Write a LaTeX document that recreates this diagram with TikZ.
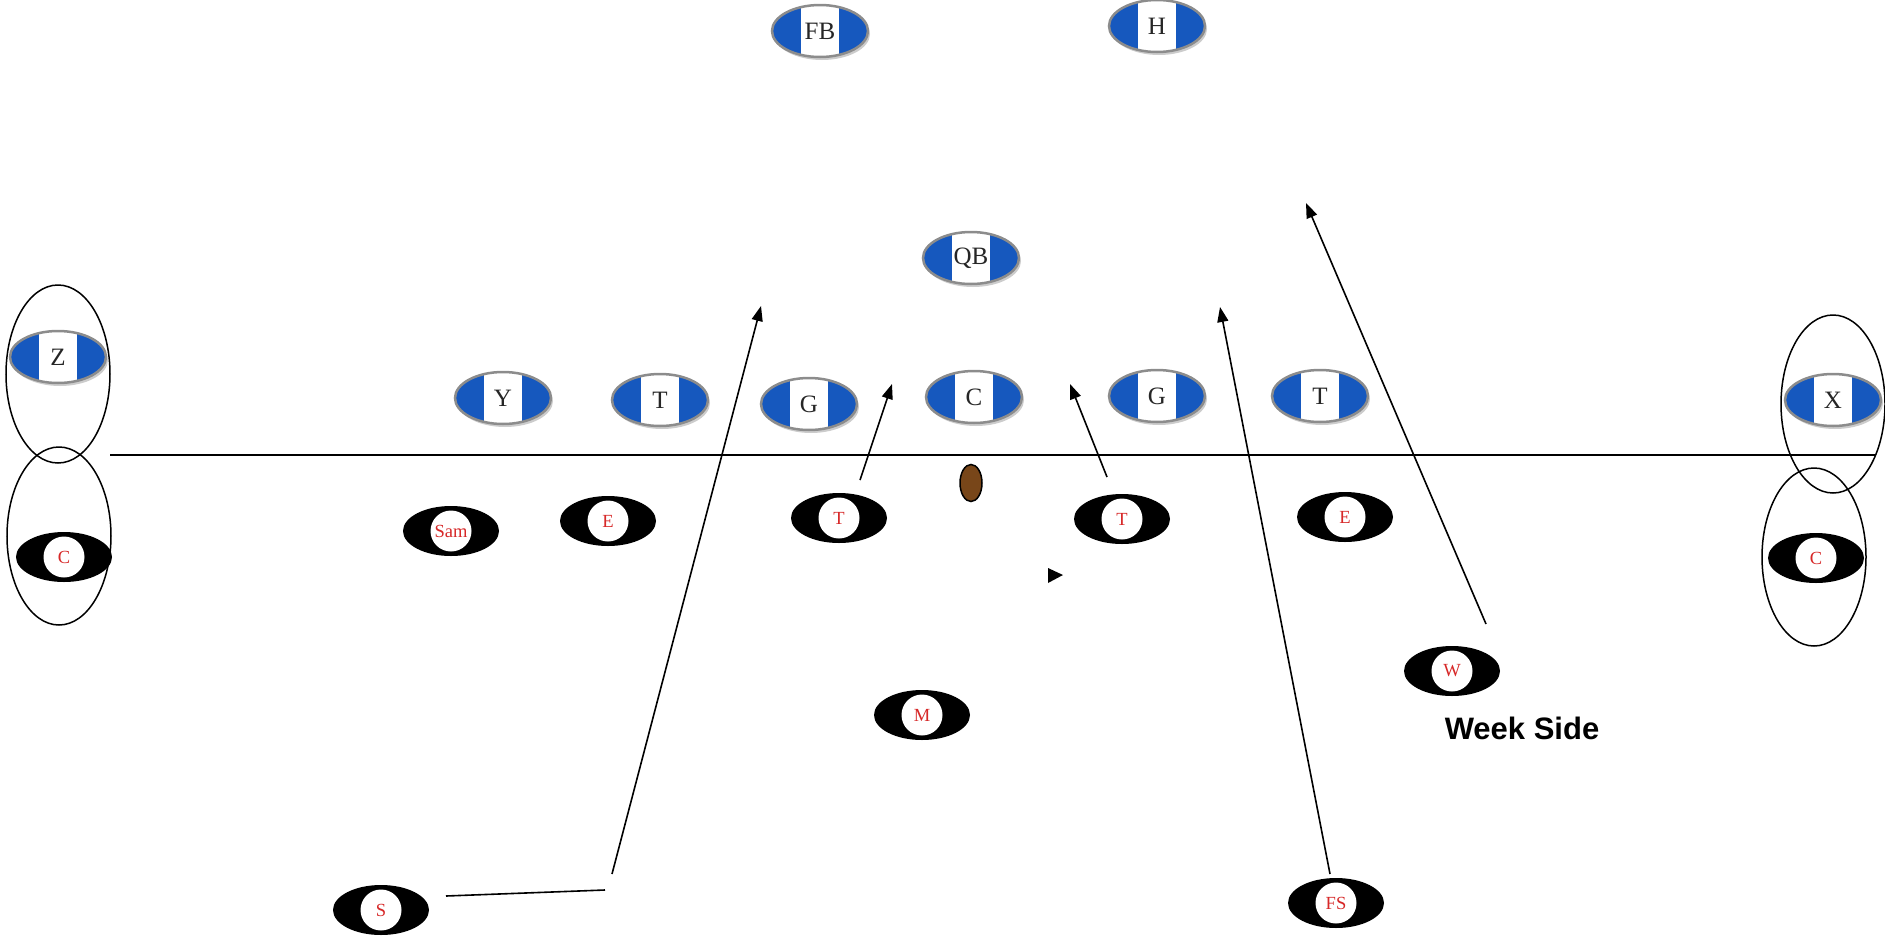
\documentclass[tikz,border=0pt]{standalone}
\usepackage{fontspec}
\setmainfont{Liberation Serif}
\setsansfont{Liberation Sans}
\usetikzlibrary{shapes.geometric,arrows.meta,shadows}
\definecolor{offblue}{RGB}{22,88,190}
\definecolor{defred}{RGB}{215,40,40}
\tikzset{
  offense/.style={ellipse, minimum width=96pt, minimum height=52pt, inner sep=0pt,
    fill=offblue, draw=black!45, line width=2.5pt, text=black!85,
    font=\fontsize{25}{25}\selectfont,
    path picture={\fill[white] ([xshift=-19pt]path picture bounding box.south)
      rectangle ([xshift=19pt]path picture bounding box.north);},
    drop shadow={shadow xshift=2pt, shadow yshift=-3pt, fill=black!50, opacity=0.4}},
  defense/.style={ellipse, minimum width=96pt, minimum height=50pt, inner sep=0pt,
    fill=black, text=defred, font=\fontsize{18.5}{18.5}\selectfont,
    path picture={\fill[white] (path picture bounding box.center) circle (20.5pt);}},
  zone/.style={draw, ellipse, line width=1.5pt, minimum width=104pt, minimum height=178pt},
  route/.style={line width=1.6pt, -{Triangle[length=15pt,width=11pt]}},
  plain/.style={line width=1.6pt},
}
\begin{document}
\begin{tikzpicture}[x=1pt, y=-1pt]
\useasboundingbox (0,0) rectangle (1885,937);

% line of scrimmage
\coordinate (losL) at (110,455);
\coordinate (losR) at (1875,455);
\draw[line width=1.8pt] (losL) -- (losR);

% football
\node[ellipse, draw, line width=1.5pt, fill={rgb,255:red,120;green,70;blue,25},
  minimum width=22pt, minimum height=37pt, inner sep=0pt] (ball) at (971,483) {};

% coverage zones
\node[zone] (zoneZ) at (58,374) {};
\node[zone] (zoneCL) at (59,536) {};
\node[zone] (zoneX) at (1833,404) {};
\node[zone] (zoneCR) at (1814,557) {};

% offense
\node[offense] (fb) at (820,31) {FB};
\node[offense] (h) at (1157,26) {H};
\node[offense] (qb) at (971,258) {QB};
\node[offense] (z) at (58,357) {Z};
\node[offense] (y) at (503,398) {Y};
\node[offense] (tl) at (660,400) {T};
\node[offense] (gl) at (809,404) {G};
\node[offense] (c) at (974,397) {C};
\node[offense] (gr) at (1157,396) {G};
\node[offense] (tr) at (1320,396) {T};
\node[offense] (x) at (1833,400) {X};

% defense
\node[defense] (cbl) at (64,557) {C};
\node[defense] (sam) at (451,531) {Sam};
\node[defense] (el) at (608,521) {E};
\node[defense] (dtl) at (839,518) {T};
\node[defense] (dtr) at (1122,519) {T};
\node[defense] (er) at (1345,517) {E};
\node[defense] (cbr) at (1816,558) {C};
\node[defense] (w) at (1452,671) {W};
\node[defense] (m) at (922,715) {M};
\node[defense] (s) at (381,910) {S};
\node[defense] (fs) at (1336,903) {FS};

\node[font=\sffamily\bfseries\fontsize{31}{31}\selectfont] (weak) at (1522,728) {Week Side};

% blitz and stunt paths
\coordinate (s1) at (446,896);
\coordinate (s2) at (605,890);
\coordinate (s3) at (612,874);
\coordinate (s4) at (761,306);
\draw[plain] (s1) -- (s2);
\draw[route] (s3) -- (s4);

\coordinate (tl1) at (860,480);
\coordinate (tl2) at (892,384);
\draw[route] (tl1) -- (tl2);

\coordinate (tr1) at (1107,477);
\coordinate (tr2) at (1070,384);
\draw[route] (tr1) -- (tr2);

\coordinate (fs1) at (1330,874);
\coordinate (fs2) at (1220,307);
\draw[route] (fs1) -- (fs2);

\coordinate (w1) at (1486,624);
\coordinate (w2) at (1306,203);
\draw[route] (w1) -- (w2);

% lone pointer
\coordinate (p1) at (1048,568);
\coordinate (p2) at (1063,575);
\coordinate (p3) at (1048,583);
\fill (p1) -- (p2) -- (p3) -- cycle;
\end{tikzpicture}
\end{document}
